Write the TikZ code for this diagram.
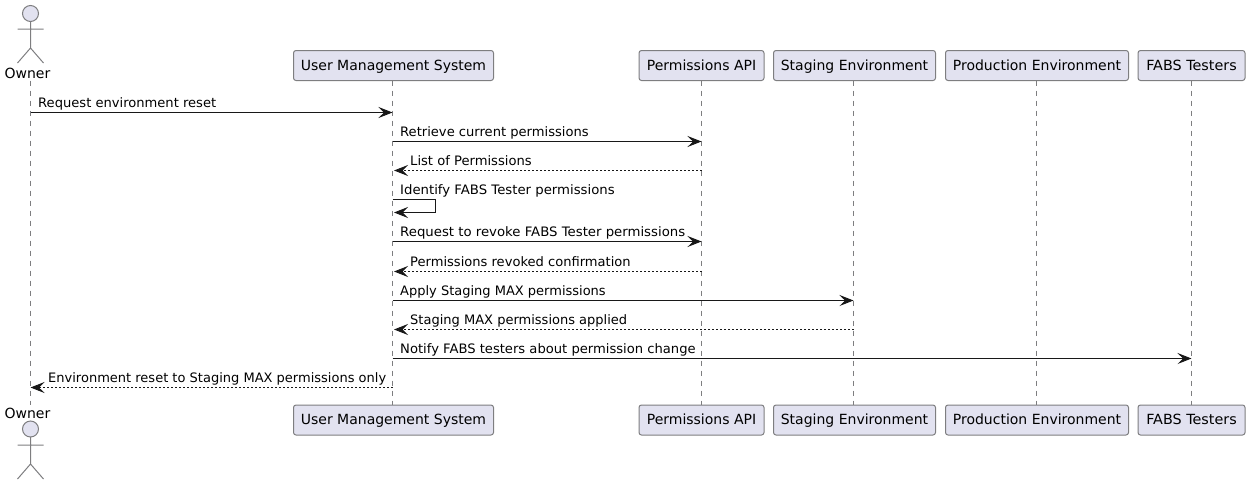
\documentclass[tikz,border=0pt]{standalone}
\usepackage{fontspec}
\usepackage{graphicx}
\setmainfont{DejaVu Sans}
\usetikzlibrary{arrows.meta}
\definecolor{pfill}{HTML}{E2E2F0}
\definecolor{pline}{HTML}{181818}
\definecolor{pgrey}{HTML}{7E7E80}
\newcommand{\fitw}[2]{\resizebox{#1pt}{\height}{#2}}
\tikzset{
  x=1pt,y=-1pt,
  part/.style={draw=pgrey,line width=1pt,fill=pfill,rounded corners=2.5pt,minimum height=30pt,inner sep=0pt,text height=12pt,text depth=3pt,font=\fontsize{14}{16}\selectfont,text=black,anchor=center},
  actorshape/.style={draw=pgrey,line width=1pt},
  actorhead/.style={draw=pgrey,line width=1pt,fill=pfill},
  actorname/.style={font=\fontsize{14}{16}\selectfont,inner sep=0pt,text=black},
  life/.style={draw=pgrey,line width=1pt,dash pattern=on 5pt off 5pt},
  tip/.style={-{Stealth[length=14pt,width=11pt,inset=5.5pt,fill=pline]}},
  msg/.style={draw=pline,line width=1pt,tip},
  ret/.style={draw=pline,line width=1pt,dash pattern=on 2pt off 2pt,tip},
  lbl/.style={font=\fontsize{13}{15}\selectfont,inner sep=0pt,anchor=base west,text=black},
}
\begin{document}
\begin{tikzpicture}
\useasboundingbox (0,0) rectangle (1249,485);
% lifeline x coordinates
\coordinate (xo) at (30.5,0);
\coordinate (xu) at (392.5,0);
\coordinate (xul) at (394,0);
\coordinate (xp) at (701.5,0);
\coordinate (xs) at (853.5,0);
\coordinate (xe) at (1036.5,0);
\coordinate (xf) at (1191.5,0);
% lifeline ends
\coordinate (t) at (0,80.5);
\coordinate (b) at (0,405);
\draw[life] (xo |- t) -- (xo |- b);
\draw[life] (xu |- t) -- (xu |- b);
\draw[life] (xp |- t) -- (xp |- b);
\draw[life] (xs |- t) -- (xs |- b);
\draw[life] (xe |- t) -- (xe |- b);
\draw[life] (xf |- t) -- (xf |- b);
% top participants
\node[part,minimum width=200pt] (ut) at (393.5,65.5) {User Management System};
\node[part,minimum width=125pt] (pt) at (701.5,65.5) {Permissions API};
\node[part,minimum width=162pt] (st) at (854.5,65.5) {Staging Environment};
\node[part,minimum width=183pt] (et) at (1037,65.5) {Production Environment};
\node[part,minimum width=107pt] (ft) at (1191.5,65.5) {\fitw{90.5}{FABS Testers}};
% bottom participants
\node[part,minimum width=200pt] (ub) at (393.5,420) {User Management System};
\node[part,minimum width=125pt] (pb) at (701.5,420) {Permissions API};
\node[part,minimum width=162pt] (sb) at (854.5,420) {Staging Environment};
\node[part,minimum width=183pt] (eb) at (1037,420) {Production Environment};
\node[part,minimum width=107pt] (fb) at (1191.5,420) {\fitw{90.5}{FABS Testers}};
% top actor
\draw[actorhead] (30.5,13.5) circle (8);
\draw[actorshape] (30.5,21.5) -- (30.5,48) (17.5,29) -- (43.5,29) (17.5,63) -- (30.5,48) -- (43.5,63);
\node[actorname,anchor=base] (ownert) at (27.5,78) {Owner};
% bottom actor
\draw[actorhead] (30.5,429) circle (8);
\draw[actorshape] (30.5,437) -- (30.5,464) (17.5,445) -- (43.5,445) (17.5,479) -- (30.5,464) -- (43.5,479);
\node[actorname,anchor=base] (ownerb) at (27.5,418) {Owner};
% messages
\coordinate (m1) at (0,112.5);
\coordinate (m2) at (0,141.5);
\coordinate (m3) at (0,170.5);
\coordinate (m4a) at (0,199.5);
\coordinate (m4b) at (0,212.5);
\coordinate (m5) at (0,241.5);
\coordinate (m6) at (0,271.5);
\coordinate (m7) at (0,300.5);
\coordinate (m8) at (0,329.5);
\coordinate (m9) at (0,358.5);
\coordinate (m10) at (0,387.5);
\coordinate (xr) at (435.5,0);
\draw[msg] (xo |- m1) -- (xu |- m1);
\draw[msg] (xu |- m2) -- (xp |- m2);
\draw[ret] (xp |- m3) -- (xul |- m3);
\draw[msg] (xu |- m4a) -- (xr |- m4a) -- (xr |- m4b) -- (xul |- m4b);
\draw[msg] (xu |- m5) -- (xp |- m5);
\draw[ret] (xp |- m6) -- (xul |- m6);
\draw[msg] (xu |- m7) -- (xs |- m7);
\draw[ret] (xs |- m8) -- (xul |- m8);
\draw[msg] (xu |- m9) -- (xf |- m9);
\draw[ret] (xu |- m10) -- (xo |- m10);
\node[lbl] (l1) at (38,107.5) {\fitw{178}{Request environment reset}};
\node[lbl] (l2) at (400,136.5) {\fitw{188.5}{Retrieve current permissions}};
\node[lbl] (l3) at (410,165.5) {\fitw{121.5}{List of Permissions}};
\node[lbl] (l4) at (400,194.5) {\fitw{214.5}{Identify FABS Tester permissions}};
\node[lbl] (l5) at (400,236.5) {\fitw{285}{Request to revoke FABS Tester permissions}};
\node[lbl] (l6) at (410,266) {\fitw{220.5}{Permissions revoked confirmation}};
\node[lbl] (l7) at (400,295.5) {\fitw{205.5}{Apply Staging MAX permissions}};
\node[lbl] (l8) at (410,324.5) {\fitw{217}{Staging MAX permissions applied}};
\node[lbl] (l9) at (400,353.5) {\fitw{295.5}{Notify FABS testers about permission change}};
\node[lbl] (l10) at (48,382.5) {\fitw{338}{Environment reset to Staging MAX permissions only}};
\end{tikzpicture}
\end{document}
